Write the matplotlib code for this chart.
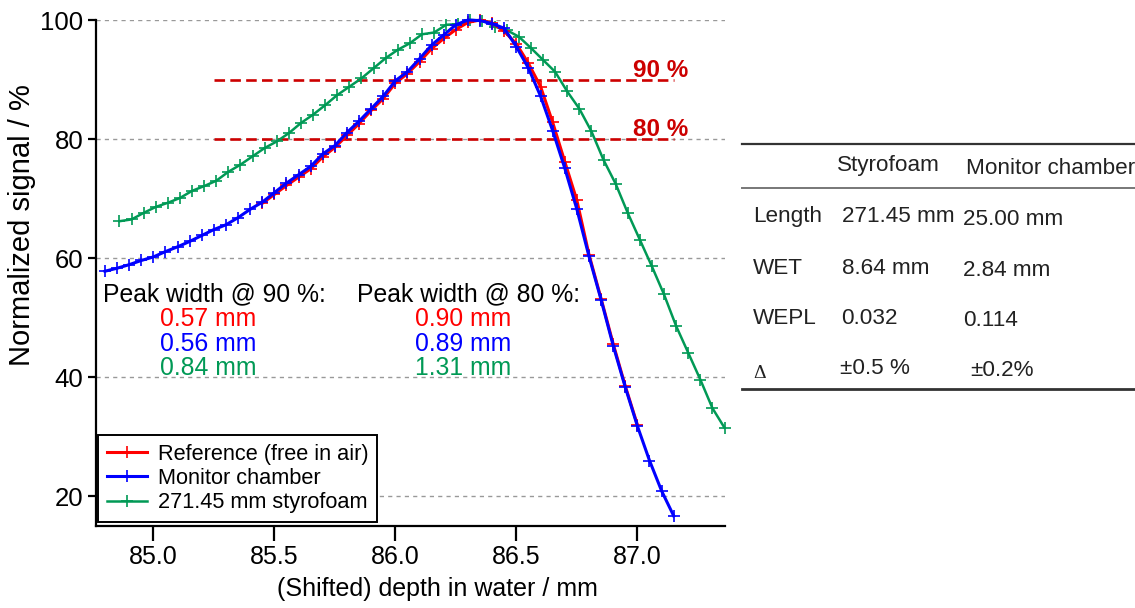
import matplotlib
matplotlib.use("Agg")
import matplotlib.pyplot as plt
from matplotlib.lines import Line2D

plt.rcParams['font.family'] = ['Liberation Sans', 'DejaVu Sans']

# ---------------- data ----------------
blue_x = [84.80, 84.85, 84.90, 84.95, 85.00, 85.05, 85.10, 85.15, 85.20, 85.25,
          85.30, 85.35, 85.40, 85.45, 85.50, 85.55, 85.60, 85.65, 85.70, 85.75,
          85.80, 85.85, 85.90, 85.95, 86.00, 86.05, 86.10, 86.15, 86.20, 86.25,
          86.30, 86.35, 86.40, 86.45, 86.50, 86.55, 86.60, 86.65, 86.70, 86.75,
          86.80, 86.85, 86.90, 86.95, 87.00, 87.05, 87.10, 87.15]
blue_y = [57.8, 58.3, 58.9, 59.6, 60.2, 61.1, 61.9, 62.8, 63.8, 64.8,
          65.6, 66.8, 68.2, 69.4, 71.0, 72.6, 74.0, 75.4, 77.5, 78.9,
          81.1, 83.0, 85.1, 87.2, 89.8, 91.3, 93.5, 95.8, 97.5, 99.2,
          100.0, 99.9, 99.4, 98.6, 95.5, 91.9, 87.2, 81.4, 75.1, 68.2,
          60.3, 53.0, 45.3, 38.3, 31.8, 26.0, 20.9, 16.7]

red_x = [85.45, 85.50, 85.55, 85.60, 85.65, 85.70, 85.75, 85.80, 85.85, 85.90,
         85.95, 86.00, 86.05, 86.10, 86.15, 86.20, 86.25, 86.30, 86.35, 86.40,
         86.45, 86.50, 86.55, 86.60, 86.65, 86.70, 86.75, 86.80, 86.85, 86.90,
         86.95, 87.00]
red_y = [69.2, 70.7, 72.2, 73.6, 75.0, 77.0, 78.6, 80.6, 82.6, 84.8,
         86.8, 89.4, 91.0, 93.0, 95.2, 96.9, 98.4, 99.6, 100.0, 99.5,
         98.1, 96.0, 92.7, 88.8, 82.8, 76.2, 69.7, 60.6, 53.2, 45.6,
         38.5, 32.0]

green_x = [84.86, 84.91, 84.96, 85.01, 85.06, 85.11, 85.16, 85.21, 85.26, 85.31,
           85.36, 85.41, 85.46, 85.51, 85.56, 85.61, 85.66, 85.71, 85.76, 85.81,
           85.86, 85.91, 85.96, 86.01, 86.06, 86.11, 86.16, 86.21, 86.26, 86.31,
           86.36, 86.41, 86.46, 86.51, 86.56, 86.61, 86.66, 86.71, 86.76, 86.81,
           86.86, 86.91, 86.96, 87.01, 87.06, 87.11, 87.16, 87.21, 87.26, 87.31,
           87.36]
green_y = [66.2, 66.5, 67.6, 68.6, 69.3, 70.1, 71.3, 72.1, 73.0, 74.5,
           75.7, 77.1, 78.5, 79.6, 81.0, 82.7, 84.1, 85.7, 87.4, 88.8,
           90.2, 91.9, 93.6, 95.0, 96.1, 97.6, 97.9, 99.2, 99.3, 100.0,
           99.9, 98.9, 98.3, 97.2, 95.3, 93.3, 91.3, 88.0, 85.1, 81.3,
           76.5, 72.5, 67.6, 63.1, 58.6, 53.9, 48.6, 44.1, 39.6, 34.8,
           31.5]

series_labels = ["Reference (free in air)", "Monitor chamber", "271.45 mm styrofoam"]
levels = [90, 80]
level_labels = ["90 %", "80 %"]
level_xrange = [85.25, 87.15]

width90_title = "Peak width @ 90 %:"
width80_title = "Peak width @ 80 %:"
width90 = ["0.57 mm", "0.56 mm", "0.84 mm"]
width80 = ["0.90 mm", "0.89 mm", "1.31 mm"]

xticks = [85.0, 85.5, 86.0, 86.5, 87.0]
yticks = [20, 40, 60, 80, 100]

table_header = ["", "Styrofoam", "Monitor chamber"]
table_rows = [["Length", "271.45 mm", "25.00 mm"],
              ["WET", "8.64 mm", "2.84 mm"],
              ["WEPL", "0.032", "0.114"],
              ["\u0394", "\u00b10.5 %", "\u00b10.2%"]]

# ---------------- styling ----------------
RED = "#ff0000"
BLUE = "#0000ff"
GREEN = "#009955"
DRED = "#cc0000"

W, H = 1135, 608
fig = plt.figure(figsize=(W / 100, H / 100), dpi=100)
ax = fig.add_axes([96 / W, 1 - 526 / H, (725 - 96) / W, (526 - 20) / H])

ax.set_xlim(84.763, 87.362)
ax.set_ylim(15, 100)

for yv in yticks:
    ax.axhline(yv, color="#999999", lw=1.0, ls=(0, (3, 3)), zorder=0)

for lv in levels:
    ax.hlines(lv, level_xrange[0], level_xrange[1], colors=DRED, lw=1.9,
              linestyles=(0, (4, 2)), zorder=1)

ms = 9
mew = 1.2
ax.plot(green_x, green_y, color=GREEN, lw=1.8, marker="+", ms=ms, mew=mew,
        clip_on=False, zorder=3, label=series_labels[2])
ax.plot(red_x, red_y, color=RED, lw=2.2, marker="+", ms=ms, mew=mew,
        clip_on=False, zorder=4, label=series_labels[0])
ax.plot(blue_x, blue_y, color=BLUE, lw=2.2, marker="+", ms=ms, mew=mew,
        clip_on=False, zorder=5, label=series_labels[1])

for lv, lt, yy in zip(levels, level_labels, [91.5, 81.6]):
    ax.text(87.095, yy, lt, color=DRED, fontsize=17.5, fontweight="bold",
            ha="center", va="center", zorder=6)

# peak width annotations
fs = 17.8
ax.text(84.792, 53.9, width90_title, fontsize=fs, ha="left", va="center")
ax.text(85.841, 53.9, width80_title, fontsize=fs, ha="left", va="center")
for val, col, yy in zip(width90, [RED, BLUE, GREEN], [49.7, 45.6, 41.5]):
    ax.text(85.028, yy, val, color=col, fontsize=fs, ha="left", va="center")
for val, col, yy in zip(width80, [RED, BLUE, GREEN], [49.7, 45.6, 41.5]):
    ax.text(86.083, yy, val, color=col, fontsize=fs, ha="left", va="center")

# axes styling
for s in ["top", "right"]:
    ax.spines[s].set_visible(False)
for s in ["left", "bottom"]:
    ax.spines[s].set_linewidth(1.6)
ax.set_xticks(xticks)
ax.set_xticklabels([f"{t:.1f}" for t in xticks])
ax.set_yticks(yticks)
ax.tick_params(axis="x", direction="out", length=11, width=1.6, labelsize=18, pad=3)
ax.tick_params(axis="y", direction="out", length=6, width=1.6, labelsize=18.5, pad=3)

ax.set_xlabel("(Shifted) depth in water / mm", fontsize=18)
ax.xaxis.set_label_coords((437 - 96) / 629, (526 - 577) / 506)
ax.xaxis.label.set_va("top")
ax.set_ylabel("Normalized signal / %", fontsize=21)
ax.yaxis.set_label_coords((22 - 96) / 629, (526 - 225) / 506)
ax.yaxis.label.set_va("center")
ax.yaxis.label.set_ha("center")

handles, labels = ax.get_legend_handles_labels()
order = [1, 2, 0]
leg = ax.legend([handles[i] for i in order], [labels[i] for i in order],
                loc="lower left", bbox_to_anchor=(2 / 629, 4 / 506),
                borderaxespad=0, fontsize=15.7, frameon=True, fancybox=False,
                edgecolor="black", framealpha=1, handlelength=1.85,
                handletextpad=0.5, labelspacing=0.15, borderpad=0.4,
                numpoints=1)
leg.get_frame().set_linewidth(1.4)
leg.set_zorder(10)

# ---------------- table ----------------
def fx(px):
    return px / W

def fy(py):
    return 1 - py / H

fig.add_artist(Line2D([fx(742), fx(1135)], [fy(144), fy(144)], color="#333333", lw=1.6))
fig.add_artist(Line2D([fx(742), fx(1135)], [fy(187.5), fy(187.5)], color="#777777", lw=1.4))
fig.add_artist(Line2D([fx(742), fx(1135)], [fy(389), fy(389)], color="#333333", lw=2.0))

tfs = 16.2
fig.text(fx(837), fy(166), table_header[1], fontsize=tfs, ha="left", va="center", color="#222222")
fig.text(fx(966.5), fy(169), table_header[2], fontsize=tfs, ha="left", va="center", color="#222222")

row_y = [217, 268, 318, 368]
col_x = [753, 841.5, 963]
col2_dy = 2.5
for r, yy in zip(table_rows, row_y):
    if r[0] == "\u0394":
        fig.text(fx(col_x[0]), fy(yy + 5), r[0], fontsize=14, ha="left", va="center",
                 color="#222222", family=["Liberation Serif", "DejaVu Serif"])
        fig.text(fx(840), fy(yy), r[1], fontsize=tfs, ha="left", va="center", color="#222222")
        fig.text(fx(970), fy(yy + col2_dy), r[2], fontsize=tfs, ha="left", va="center", color="#222222")
    else:
        fig.text(fx(col_x[0]), fy(yy), r[0], fontsize=tfs, ha="left", va="center", color="#222222")
        fig.text(fx(col_x[1]), fy(yy), r[1], fontsize=tfs, ha="left", va="center", color="#222222")
        fig.text(fx(col_x[2]), fy(yy + col2_dy), r[2], fontsize=tfs, ha="left", va="center", color="#222222")

fig.savefig("out.png", dpi=100)
